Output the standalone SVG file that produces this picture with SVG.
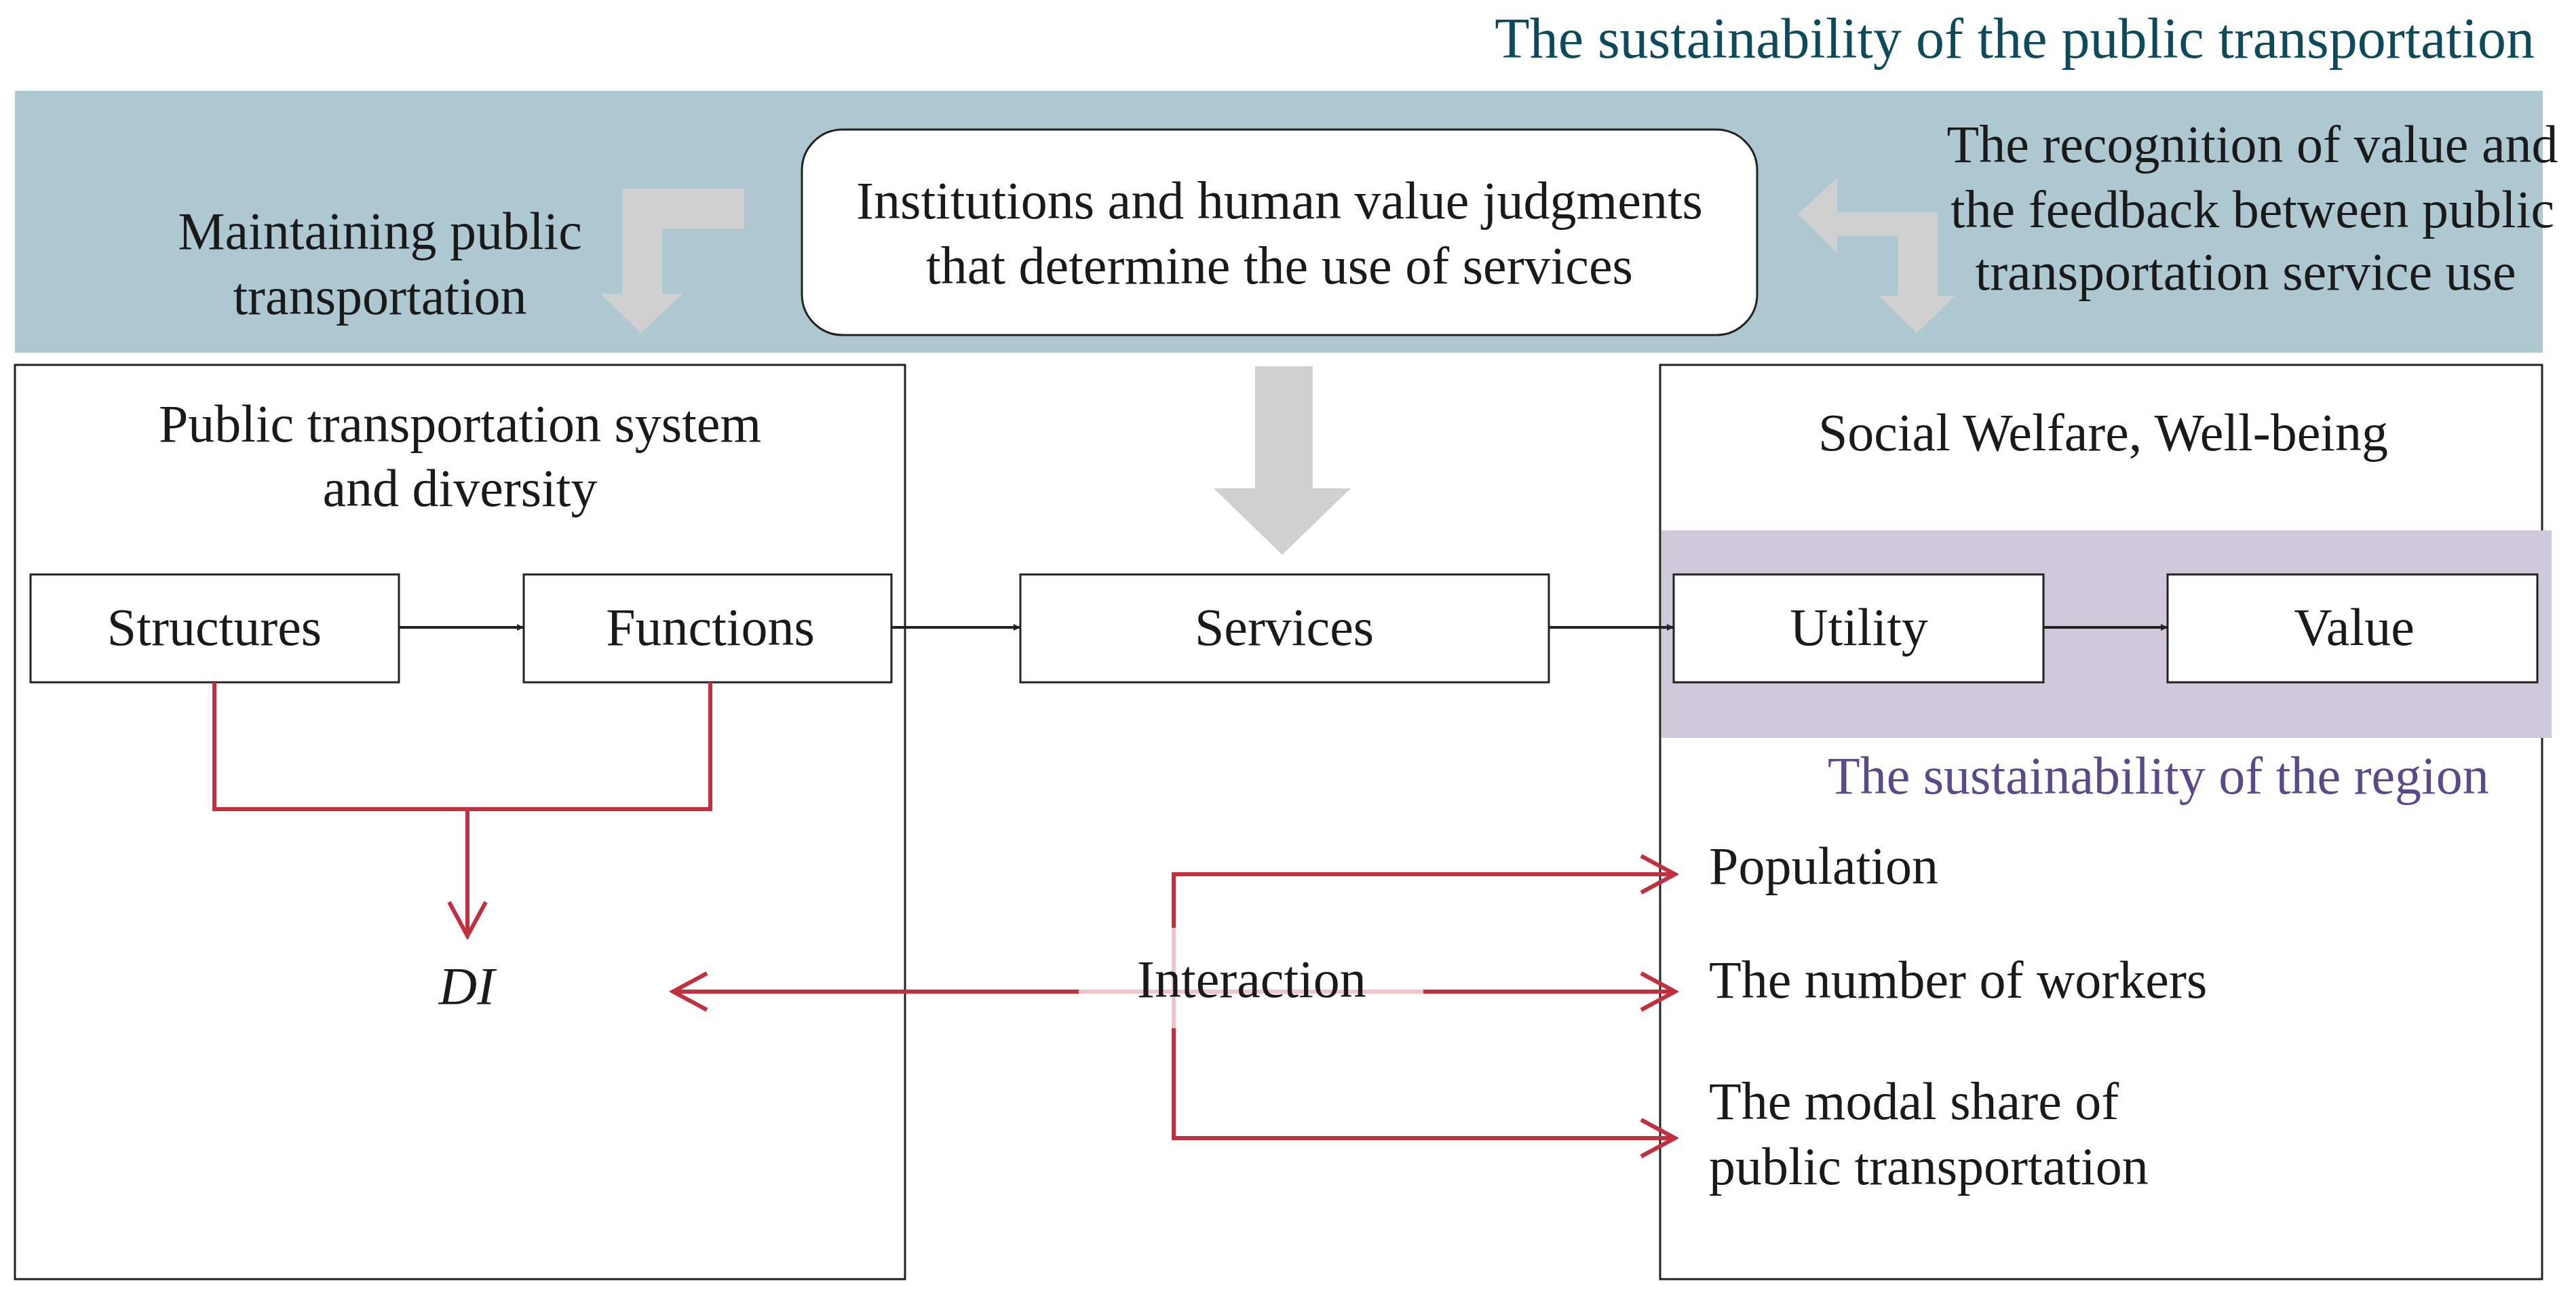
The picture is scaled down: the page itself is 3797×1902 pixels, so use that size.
<svg xmlns="http://www.w3.org/2000/svg" width="3797" height="1902" viewBox="0 0 3797 1902">
<style>
text{font-family:"Liberation Serif","Times New Roman",serif;font-size:78px;fill:#1a1a1a}
.c{text-anchor:middle}
.box{fill:#fff;stroke:#222;stroke-width:3}
.red{fill:none;stroke:#c0303f;stroke-width:6}
.pink{fill:none;stroke:#f0c4cb;stroke-width:6}
.gray{fill:#d0d0d0}
</style>
<defs>
<marker id="ah" viewBox="0 0 10 10" refX="10" refY="5" markerWidth="10" markerHeight="10" markerUnits="userSpaceOnUse" orient="auto"><path d="M0,0L10,5L0,10z" fill="#222"/></marker>
<marker id="chev" viewBox="0 0 60 60" refX="55" refY="30" markerWidth="60" markerHeight="60" markerUnits="userSpaceOnUse" orient="auto"><path d="M5,3L55,30L5,57" fill="none" stroke="#c0303f" stroke-width="6"/></marker>
</defs>
<rect width="3797" height="1902" fill="#fff"/>
<text x="3736" y="85" text-anchor="end" style="font-size:84px;fill:#0d4a5c">The sustainability of the public transportation</text>
<rect x="22" y="134" width="3726" height="386" fill="#aec8d1"/>
<g id="maintaining">
<polygon class="gray" points="917,278 1097,278 1097,337 976,337 976,433 1006,433 945,491 885,433 917,433"/>
<text class="c" x="560" y="367">Maintaining public</text>
<text class="c" x="560" y="463">transportation</text>
</g>
<g id="institutions">
<rect x="1182" y="191" width="1408" height="303" rx="60" fill="#fff" stroke="#222" stroke-width="3"/>
<text class="c" x="1886" y="322">Institutions and human value judgments</text>
<text class="c" x="1886" y="418">that determine the use of services</text>
</g>
<g id="recognition">
<polygon class="gray" points="2650,316 2708,262 2708,313 2856,313 2856,436 2882,436 2825,491 2769,436 2798,436 2798,348 2708,348 2708,373"/>
<text class="c" x="3320" y="239">The recognition of value and</text>
<text class="c" x="3320" y="335">the feedback between public</text>
<text class="c" x="3310" y="427">transportation service use</text>
</g>
<polygon class="gray" points="1850,540 1935,540 1935,720 1991,720 1890,818 1789,720 1850,720"/>
<g id="leftbox">
<rect class="box" x="22" y="538" width="1312" height="1348"/>
<text class="c" x="678" y="651">Public transportation system</text>
<text class="c" x="678" y="746">and diversity</text>
</g>
<g id="rightbox">
<rect class="box" x="2447" y="538" width="1300" height="1348"/>
<rect x="2449" y="782" width="1312" height="306" fill="#cfc8da"/>
<text class="c" x="3100" y="664">Social Welfare, Well-being</text>
<text x="2694" y="1170" style="fill:#5b4a8a">The sustainability of the region</text>
</g>
<g id="structures"><rect class="box" x="45" y="847" width="543" height="159"/><text class="c" x="316" y="951">Structures</text></g>
<g id="functions"><rect class="box" x="772" y="847" width="542" height="159"/><text class="c" x="1047" y="951">Functions</text></g>
<g id="services"><rect class="box" x="1504" y="847" width="779" height="159"/><text class="c" x="1893" y="951">Services</text></g>
<g id="utility"><rect class="box" x="2467" y="847" width="545" height="159"/><text class="c" x="2740" y="951">Utility</text></g>
<g id="value"><rect class="box" x="3195" y="847" width="545" height="159"/><text class="c" x="3470" y="951">Value</text></g>
<g id="di"><text class="c" x="688" y="1480" style="font-style:italic">DI</text></g>
<g id="outcomes">
<text x="2519" y="1303">Population</text>
<text x="2519" y="1471">The number of workers</text>
<text x="2519" y="1650">The modal share of</text>
<text x="2519" y="1746">public transportation</text>
</g>
<g id="connectors">
<line x1="588" y1="925" x2="772" y2="925" stroke="#222" stroke-width="4" marker-end="url(#ah)"/>
<line x1="1314" y1="925" x2="1504" y2="925" stroke="#222" stroke-width="4" marker-end="url(#ah)"/>
<line x1="2283" y1="925" x2="2467" y2="925" stroke="#222" stroke-width="4" marker-end="url(#ah)"/>
<line x1="3012" y1="925" x2="3195" y2="925" stroke="#222" stroke-width="4" marker-end="url(#ah)"/>
<polyline class="red" points="316,1006 316,1193 1047,1193 1047,1006"/>
<line class="red" x1="689" y1="1193" x2="689" y2="1380" marker-end="url(#chev)"/>
<line class="red" x1="1590" y1="1462" x2="992" y2="1462" marker-end="url(#chev)"/>
<line class="pink" x1="1590" y1="1462" x2="2098" y2="1462"/>
<line class="red" x1="2098" y1="1462" x2="2469" y2="1462" marker-end="url(#chev)"/>
<polyline class="red" points="1730,1368 1730,1289 2469,1289" marker-end="url(#chev)"/>
<line class="pink" x1="1730" y1="1368" x2="1730" y2="1516"/>
<polyline class="red" points="1730,1516 1730,1678 2469,1678" marker-end="url(#chev)"/>
</g>
<text x="1676" y="1470">Interaction</text>
</svg>
